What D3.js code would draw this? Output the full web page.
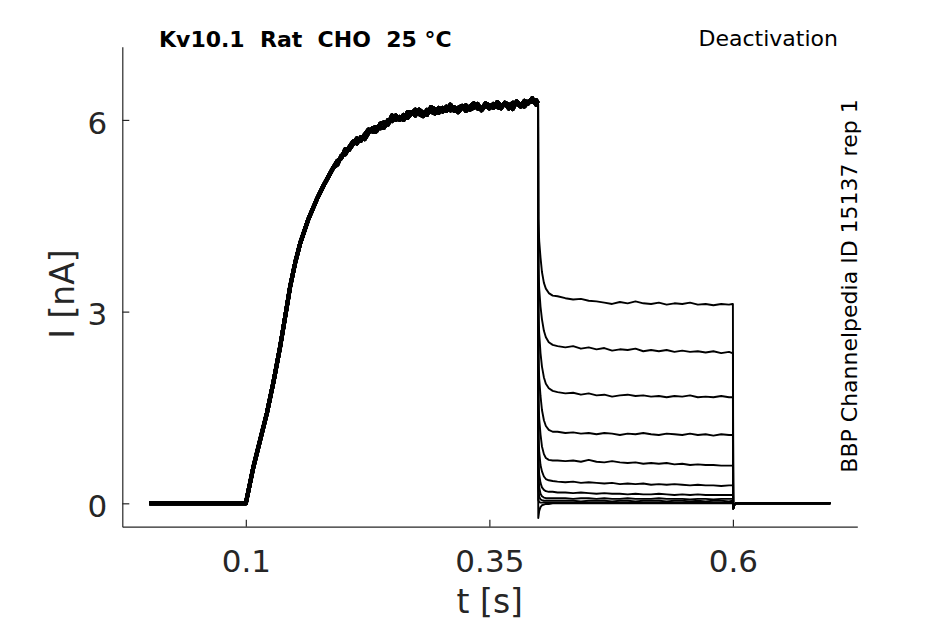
<!DOCTYPE html>
<html>
<head>
  <meta charset="utf-8">
  <title>Kv10.1 deactivation</title>
  <style>
    body { margin: 0; background: #fff; }
    text { font-family: "DejaVu Sans", sans-serif; fill: #262626; }
    .trace { fill: none; stroke: #000; stroke-linejoin: round; }
  </style>
</head>
<body>
  <svg width="945" height="624"></svg>
  <script src="https://cdnjs.cloudflare.com/ajax/libs/d3/7.8.5/d3.min.js"></script>
  <script>
    // activation phase (common to all sweeps)
    const riseT = [0.001, 0.1, 0.1078, 0.1216, 0.1284, 0.1352, 0.1404, 0.1455, 0.1506, 0.1558, 0.1643, 0.1729, 0.1797, 0.190];
    const riseI = [0, 0, 0.57, 1.41, 1.90, 2.45, 2.92, 3.39, 3.76, 4.07, 4.45, 4.76, 4.97, 5.26];

    // plateau, two noisy sweeps
    const plateauT = [0.194,0.198,0.202,0.206,0.210,0.214,0.218,0.222,0.226,0.230,0.234,0.238,0.242,0.246,0.250,0.254,0.258,0.262,0.266,0.270,0.274,0.278,0.282,0.286,0.290,0.294,0.298,0.302,0.306,0.310,0.314,0.318,0.322,0.326,0.330,0.334,0.338,0.342,0.346,0.350,0.354,0.358,0.362,0.366,0.370,0.374,0.378,0.382,0.386,0.390,0.394,0.398];
    const sweepA = [5.36,5.40,5.54,5.53,5.62,5.71,5.67,5.77,5.85,5.82,5.82,5.94,5.96,5.93,6.07,6.00,6.05,6.00,6.12,6.12,6.07,6.16,6.11,6.08,6.20,6.17,6.11,6.19,6.14,6.24,6.14,6.19,6.22,6.14,6.21,6.26,6.18,6.17,6.26,6.23,6.19,6.28,6.22,6.26,6.18,6.27,6.26,6.21,6.30,6.26,6.34,6.24];
    const sweepB = [5.30,5.44,5.46,5.57,5.66,5.63,5.73,5.70,5.80,5.87,5.89,5.87,5.88,6.00,5.98,6.07,6.00,6.08,6.03,6.10,6.16,6.09,6.06,6.16,6.13,6.10,6.19,6.13,6.21,6.15,6.20,6.12,6.19,6.23,6.16,6.19,6.25,6.15,6.23,6.18,6.25,6.20,6.18,6.27,6.24,6.17,6.29,6.23,6.21,6.29,6.28,6.31];

    // deactivation step and return to holding
    const deactT = [0.4,0.4002,0.4012,0.4025,0.404,0.406,0.408,0.411,0.415,0.42,
      0.428,0.436,0.444,0.452,0.46,0.468,0.476,0.484,0.492,0.5,0.508,0.516,0.524,0.532,0.54,0.548,0.556,0.564,0.572,0.58,0.588,0.596,
      0.5995,0.6,0.6004,0.601,0.603,0.7];
    const deact1 = [6.26,4.45,4.10,3.85,3.62,3.45,3.36,3.29,3.25,3.24, 3.21,3.19,3.20,3.17,3.16,3.14,3.12,3.15,3.13,3.16,3.13,3.12,3.14,3.11,3.13,3.12,3.14,3.11,3.12,3.10,3.12,3.11, 3.12,3.12,-0.08,-0.03,0,0];
    const deact2 = [6.26,3.70,3.35,3.08,2.88,2.70,2.60,2.52,2.48,2.46, 2.44,2.46,2.42,2.44,2.41,2.43,2.39,2.41,2.40,2.42,2.38,2.40,2.38,2.40,2.37,2.39,2.37,2.38,2.36,2.38,2.35,2.37, 2.35,2.35,-0.08,-0.03,0,0];
    const deact3 = [6.26,3.00,2.65,2.35,2.14,1.97,1.87,1.80,1.76,1.74, 1.72,1.73,1.70,1.72,1.69,1.70,1.67,1.69,1.70,1.68,1.69,1.67,1.68,1.66,1.68,1.67,1.69,1.66,1.67,1.66,1.68,1.66, 1.66,1.66,-0.08,-0.03,0,0];
    const deact4 = [6.26,2.30,1.95,1.68,1.46,1.30,1.21,1.15,1.12,1.12, 1.10,1.11,1.09,1.10,1.08,1.10,1.09,1.07,1.09,1.08,1.10,1.08,1.07,1.09,1.08,1.07,1.09,1.07,1.08,1.06,1.08,1.07, 1.07,1.07,-0.08,-0.03,0,0];
    const deact5 = [6.26,1.65,1.32,1.08,0.89,0.77,0.71,0.68,0.67,0.67, 0.66,0.67,0.65,0.68,0.65,0.64,0.66,0.64,0.63,0.64,0.62,0.63,0.62,0.63,0.61,0.62,0.60,0.61,0.60,0.60,0.59,0.59, 0.59,0.59,-0.08,-0.03,0,0];
    const deact6 = [6.26,1.10,0.80,0.60,0.50,0.42,0.38,0.36,0.35,0.34, 0.33,0.34,0.32,0.33,0.32,0.31,0.32,0.30,0.31,0.30,0.31,0.29,0.30,0.29,0.30,0.29,0.28,0.29,0.28,0.28,0.27,0.28, 0.28,0.28,-0.08,-0.03,0,0];
    const deact7 = [6.26,0.70,0.45,0.32,0.25,0.21,0.19,0.18,0.18,0.17, 0.17,0.16,0.17,0.16,0.15,0.16,0.15,0.15,0.14,0.15,0.14,0.14,0.15,0.14,0.13,0.14,0.13,0.14,0.13,0.13,0.13,0.13, 0.13,0.13,-0.08,-0.03,0,0];
    const deact8 = [6.26,0.45,0.25,0.15,0.11,0.09,0.08,0.08,0.08,0.08, 0.08,0.07,0.08,0.08,0.07,0.08,0.07,0.07,0.08,0.07,0.07,0.07,0.08,0.07,0.07,0.07,0.06,0.07,0.07,0.06,0.07,0.07, 0.07,0.07,-0.08,-0.03,0,0];
    const deact9 = [6.26,0.25,0.10,0.06,0.05,0.04,0.04,0.04,0.04,0.04, 0.04,0.04,0.03,0.04,0.04,0.04,0.03,0.04,0.04,0.03,0.04,0.04,0.04,0.03,0.04,0.04,0.03,0.04,0.03,0.04,0.04,0.03, 0.04,0.04,-0.08,-0.03,0,0];
    const deact10 = [6.26,0.05,0.02,0.01,0.01,0.01,0.01,0.01,0.01,0.01, 0.01,0.01,0.01,0.01,0.01,0.01,0.01,0.01,0.01,0.01,0.01,0.01,0.01,0.01,0.01,0.01,0.01,0.01,0.01,0.01,0.01,0.01, 0.01,0.01,-0.08,-0.03,0,0];
    const deact11 = [6.26,-0.23,-0.12,-0.06,-0.03,-0.02,-0.01,-0.01,0,0, 0,0,0,0,0,0,0,0,0,0,0,0,0,0,0,0,0,0,0,0,0,0, 0,0,-0.08,-0.03,0,0];
    const deactAll = [deact1, deact2, deact3, deact4, deact5, deact6, deact7, deact8, deact9, deact10, deact11];

    const xTicks = [0.1, 0.35, 0.6];
    const yTicks = [0, 3, 6];

    const svg = d3.select('svg');
    const x = d3.scaleLinear().domain([-0.0268, 0.7277]).range([122.3, 857.3]);
    const y = d3.scaleLinear().domain([-0.366, 7.146]).range([526.7, 46.7]);

    let line = d3.line()
                 .x(d => x(d[0]))
                 .y(d => y(d[1]));

    // activation part of each sweep (overlaid sweeps give the thick band)
    let actTraces = deactAll.map((dv, i) => {
      let plat = i % 2 === 0 ? sweepA : sweepB;
      let pts = riseT.map((t, j) => [t, riseI[j]]);
      pts = pts.concat(plateauT.map((t, j) => [t, plat[j]]));
      pts.push([deactT[0], dv[0]]);
      return pts;
    });
    let deactTraces = deactAll.map(dv => deactT.map((t, j) => [t, dv[j]]));

    svg.append('g')
       .selectAll('path')
       .data(actTraces)
       .enter().append('path')
       .attr('class', 'trace')
       .attr('stroke-width', 4)
       .attr('d', line);

    svg.append('g')
       .selectAll('path')
       .data(deactTraces)
       .enter().append('path')
       .attr('class', 'trace')
       .attr('stroke-width', 1.9)
       .attr('d', line);

    // axes
    let gx = svg.append('g')
                .attr('transform', 'translate(0,526.7)')
                .call(d3.axisBottom(x).tickValues(xTicks).tickFormat(d => String(d))
                        .tickSizeInner(-7).tickSizeOuter(0).tickPadding(23));
    let gy = svg.append('g')
                .attr('transform', 'translate(122.3,0)')
                .call(d3.axisLeft(y).tickValues(yTicks).tickFormat(d3.format('d'))
                        .tickSizeInner(-7).tickSizeOuter(0).tickPadding(15));
    [gx, gy].forEach(g => {
      g.attr('font-family', null).attr('font-size', null);
      g.selectAll('path, line').attr('stroke', '#262626').attr('stroke-width', 1.2);
      g.selectAll('text').attr('fill', '#262626').style('font-size', '31px');
    });
    gy.selectAll('text').attr('dy', '0.43em');

    svg.append('text')
       .attr('x', 489.8).attr('y', 613)
       .attr('text-anchor', 'middle')
       .style('font-size', '33px')
       .text('t [s]');
    svg.append('text')
       .attr('transform', 'translate(74,294) rotate(-90)')
       .attr('text-anchor', 'middle')
       .style('font-size', '33px')
       .text('I [nA]');

    svg.append('text')
       .attr('x', 159).attr('y', 47)
       .style('font-size', '22px').style('font-weight', 'bold').style('white-space', 'pre')
       .style('fill', '#000')
       .text('Kv10.1  Rat  CHO  25 °C');
    svg.append('text')
       .attr('x', 838).attr('y', 46)
       .attr('text-anchor', 'end')
       .style('font-size', '22px').style('fill', '#000')
       .text('Deactivation');
    svg.append('text')
       .attr('transform', 'translate(856.5,286) rotate(-90)')
       .attr('text-anchor', 'middle')
       .style('font-size', '22px').style('fill', '#000')
       .text('BBP Channelpedia ID 15137 rep 1');
  </script>
</body>
</html>
